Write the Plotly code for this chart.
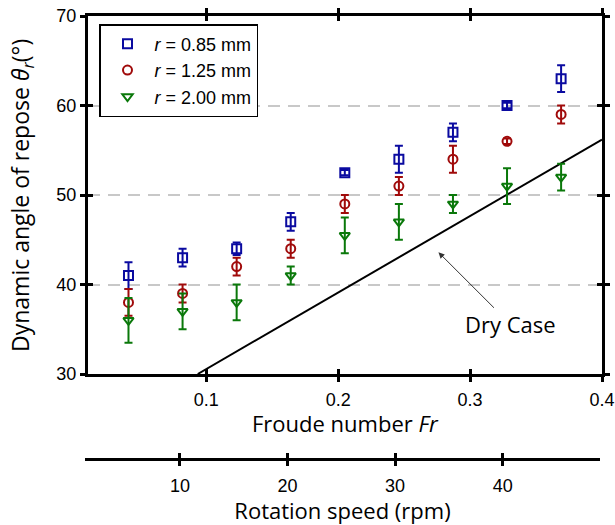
import plotly.graph_objects as go

# ---- data ----
froude = [0.041, 0.082, 0.123, 0.164, 0.205, 0.246, 0.287, 0.328, 0.369]
theta_085 = [41, 43, 44, 47, 52.5, 54, 57, 60, 63]
err_085 = [1.5, 1.0, 0.7, 1.0, 0.3, 1.5, 1.0, 0.3, 1.5]
theta_125 = [38, 39, 42, 44, 49, 51, 54, 56, 59]
err_125 = [1.5, 1.0, 1.0, 1.0, 1.0, 1.0, 1.5, 0.3, 1.0]
theta_200 = [36, 37, 38, 41, 45.5, 47, 49, 51, 52]
err_200 = [2.5, 2.0, 2.0, 1.0, 2.0, 2.0, 1.0, 2.0, 1.5]
dry_fr = [0.0935, 0.4]
dry_theta = [30, 56.2]
series_names = ["<i>r</i> = 0.85 mm", "<i>r</i> = 1.25 mm", "<i>r</i> = 2.00 mm"]
series_colors = ["#0a0aa0", "#a00a0a", "#0a780a"]
series_symbols = ["square-open", "circle-open", "triangle-down-open"]
fr_ticks = [0.1, 0.2, 0.3, 0.4]
theta_ticks = [30, 40, 50, 60, 70]
rpm_ticks = [10, 20, 30, 40]

TICKFONT = dict(family="Liberation Sans, Arial", size=18, color="black")
TITLEFONT = dict(family="Open Sans", size=22, color="black")

fig = go.Figure()

fig.add_trace(go.Scatter(x=dry_fr, y=dry_theta, mode="lines",
                         line=dict(color="black", width=2),
                         showlegend=False, hoverinfo="skip", cliponaxis=True))

for name, vals, errs, col, sym in zip(series_names,
                                      [theta_085, theta_125, theta_200],
                                      [err_085, err_125, err_200],
                                      series_colors, series_symbols):
    fig.add_trace(go.Scatter(
        x=froude, y=vals, mode="markers", name=name,
        marker=dict(symbol=sym, size=9, color=col, line=dict(width=2, color=col)),
        error_y=dict(type="data", array=errs, visible=True, color=col,
                     thickness=2, width=4),
    ))

# empty helper traces so the overlay axes (crossing ticks) and rpm axis exist
for xa, ya in [("x3", "y3"), ("x2", "y2"), ("x4", "y2")]:
    fig.add_trace(go.Scatter(x=[None], y=[None], xaxis=xa, yaxis=ya,
                             showlegend=False, hoverinfo="skip"))

W, H = 615, 525
ml, mr, mt, mb = 84, 13, 16, 67
pw = W - ml - mr
ph = H - mt - mb
x_dom = [(88 - ml) / pw, 1.0]
y_dom = [(H - mb - 374) / ph, 1.0]
x2_dom = [(85 - ml) / pw, (600 - ml) / pw]

x_range = [0.0103, 0.4]
y_range = [30, 70]
rpm_range = [1.17, 49.05]

common_x = dict(range=x_range, domain=x_dom, showline=True, linecolor="black",
                linewidth=3, zeroline=False, showgrid=False, automargin=False,
                tickmode="array", tickvals=fr_ticks, ticklen=5, tickwidth=2.5,
                tickcolor="black")
common_y = dict(range=y_range, domain=y_dom, anchor="x", showline=True,
                linecolor="black", linewidth=3, zeroline=False, automargin=False,
                tickmode="array", tickvals=theta_ticks, ticklen=5,
                tickwidth=2.5, tickcolor="black", mirror="allticks")
common_rpm = dict(range=rpm_range, domain=x2_dom, anchor="y2", zeroline=False,
                  showgrid=False, tickmode="array", tickvals=rpm_ticks,
                  automargin=False, ticklen=5, tickwidth=2.5, tickcolor="black")
fig.update_layout(
    width=W, height=H,
    margin=dict(l=ml, r=mr, t=mt, b=mb, autoexpand=False),
    paper_bgcolor="white", plot_bgcolor="rgba(0,0,0,0)",
    xaxis=dict(**common_x, anchor="y", ticks="outside", mirror="allticks",
               tickfont=TICKFONT, ticklabelstandoff=2),
    xaxis3=dict(**common_x, anchor="y", overlaying="x", ticks="inside",
                mirror="allticks", showticklabels=False),
    yaxis=dict(**common_y, showgrid=True, gridcolor="#c8c8c8", gridwidth=1.5,
               griddash="12px,8px", ticks="outside",
               tickfont=TICKFONT, ticklabelstandoff=0),
    yaxis3=dict(**common_y, overlaying="y", showgrid=False, ticks="inside",
                showticklabels=False),
    yaxis2=dict(domain=[0, 0.002], anchor="x2", visible=False, automargin=False),
    xaxis2=dict(**common_rpm, showline=True, linecolor="black", linewidth=3,
                ticks="outside", tickfont=TICKFONT, ticklabelstandoff=4,
                title=dict(text="Rotation speed (rpm)", font=TITLEFONT, standoff=0)),
    xaxis4=dict(**common_rpm, overlaying="x2", showline=False,
                ticks="inside", showticklabels=False),
    legend=dict(x=(99 - ml) / pw, y=(H - mb - 24) / ph, xanchor="left",
                yanchor="top", bordercolor="black", borderwidth=1.5,
                bgcolor="white", font=dict(family="Liberation Sans, Arial",
                                           size=18, color="black"),
                itemwidth=44, tracegroupgap=0),
    annotations=[
        dict(x=0.276, y=43.6, xref="x", yref="y", text="Dry Case",
             showarrow=True, ax=72, ay=72, arrowhead=2, arrowsize=1.2,
             arrowwidth=1, arrowcolor="#333333",
             font=dict(family="Open Sans", size=22, color="black")),
        dict(x=(345 - ml) / pw, y=(H - mb - 423) / ph, xref="paper", yref="paper",
             text="Froude number <i>Fr</i>", showarrow=False,
             xanchor="center", yanchor="middle", font=TITLEFONT),
        dict(x=(21 - ml) / pw, y=(H - mb - 196) / ph, xref="paper", yref="paper",
             text="Dynamic angle of repose <i>θ<sub>r</sub></i>(°)",
             textangle=-90, showarrow=False, xanchor="center", yanchor="middle",
             font=dict(family="Open Sans", size=23, color="black")),
    ],
)

fig.write_html("out.html")
